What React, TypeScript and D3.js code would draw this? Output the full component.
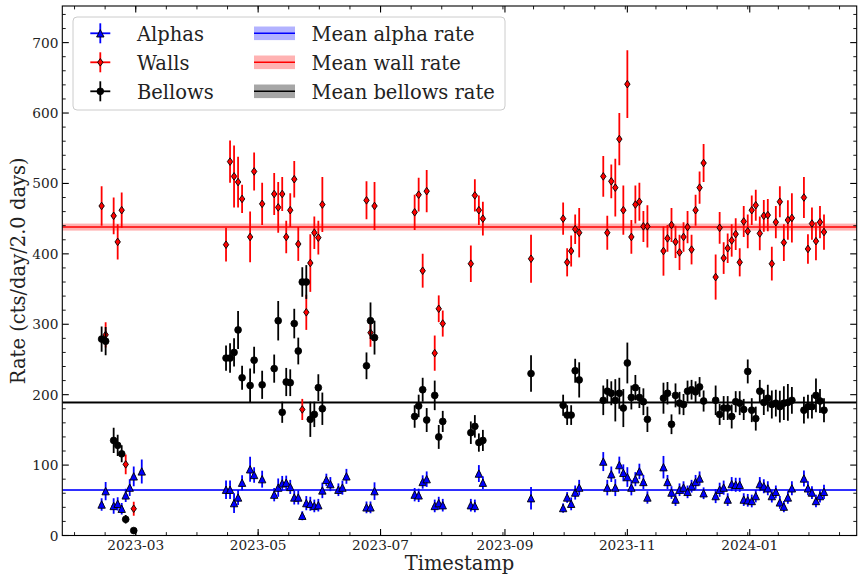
import React from 'react';
import * as d3 from 'd3';

// 2-day bin centres
const binDates = [
  '2023-02-12', '2023-02-14', '2023-02-18', '2023-02-20', '2023-02-22', '2023-02-24', '2023-02-26', '2023-02-28', '2023-03-04',
  '2023-04-15', '2023-04-17', '2023-04-19', '2023-04-21', '2023-04-23', '2023-04-27', '2023-04-29', '2023-05-03', '2023-05-09',
  '2023-05-11', '2023-05-13', '2023-05-15', '2023-05-17', '2023-05-19', '2023-05-21', '2023-05-23', '2023-05-25', '2023-05-27',
  '2023-05-29', '2023-05-31', '2023-06-02', '2023-06-04', '2023-06-06', '2023-06-10', '2023-06-12', '2023-06-14',
  '2023-06-24', '2023-06-26', '2023-06-28',
  '2023-07-18', '2023-07-20', '2023-07-22', '2023-07-24', '2023-07-28', '2023-07-30', '2023-08-01',
  '2023-08-15', '2023-08-17', '2023-08-19', '2023-08-21',
  '2023-09-14',
  '2023-09-30', '2023-10-02', '2023-10-04', '2023-10-06', '2023-10-08',
  '2023-10-20', '2023-10-22', '2023-10-24', '2023-10-26', '2023-10-28', '2023-10-30', '2023-11-01', '2023-11-03', '2023-11-05',
  '2023-11-07', '2023-11-09', '2023-11-11',
  '2023-11-19', '2023-11-21', '2023-11-23', '2023-11-25', '2023-11-27', '2023-11-29', '2023-12-01', '2023-12-03', '2023-12-05',
  '2023-12-07', '2023-12-09',
  '2023-12-15', '2023-12-17', '2023-12-19', '2023-12-21', '2023-12-23', '2023-12-25', '2023-12-27', '2023-12-29', '2023-12-31',
  '2024-01-02', '2024-01-04', '2024-01-06', '2024-01-08', '2024-01-10', '2024-01-12', '2024-01-14', '2024-01-16', '2024-01-18',
  '2024-01-20', '2024-01-22',
  '2024-01-28', '2024-01-30', '2024-02-01', '2024-02-03', '2024-02-05', '2024-02-07',
];

const alphaRate = [
  44, 63, 42, 45, 38, 57, 68, 84, 91,
  65, 65, 46, 54, 75, 94, 86, 80, 58, 68, 74, 75, 69, 54, 54, 28, 46, 45, 42, 43, 64, 79, 73, 65, 68, 84,
  40, 40, 63,
  58, 57, 76, 80, 42, 46, 43,
  43, 42, 88, 75,
  53,
  39, 54, 45, 61, 68,
  105, 68, 87, 68, 100, 89, 83, 68, 80, 91, 76, 54,
  97, 76, 61, 51, 65, 68, 62, 70, 76, 81, 60,
  56, 65, 68, 51, 73, 72, 72, 51, 50, 49, 56, 73, 70, 67, 56, 62, 47, 41, 54, 67,
  81, 67, 61, 49, 56, 62,
];
const alphaErr = [
  9, 13, 11, 9.5, 8, 9.5, 12, 14, 17,
  13, 13, 14, 10.6, 10.6, 17.7, 11, 12, 9.5, 13, 10.6, 10, 10, 10, 10, 6.4, 10, 10, 9, 9, 11, 8.8, 10, 9, 10, 10.6,
  8.3, 8.3, 12.5,
  9.5, 9.5, 9.5, 11, 9, 9, 9,
  9, 9, 12, 9,
  16,
  6.6, 7.6, 9, 10, 11,
  13.5, 11, 11, 12, 12, 12, 14, 11, 10, 11, 10, 8.8,
  16, 10, 9, 9, 9, 9, 9, 9, 10, 10, 8.3,
  10, 10, 10, 9, 10, 10, 10, 9, 9, 9, 9, 10, 10, 10, 9, 9, 9, 8, 9, 10,
  11.4, 10, 9, 9, 9, 10,
];

const wallRate = [
  468, 285, 454, 417, 462, 101, null, 38, null,
  413, 531, 510, 502, 478, 424, 517, 471, 485, 466, 485, 424, 462, 506, 414, 179, 317, 387, 430, 423, 470, null, null, null, null, null,
  476, 288, 468,
  459, 484, 376, 489, 259, 322, 301,
  386, 483, 462, 450,
  393,
  450, 388, 404, 435, 430,
  510, 430, 503, 494, 563, 462, 641, 424, 470, 474, 439, 439,
  404, 422, 441, 417, 402, 424, 438, 406, 462, 494, 529,
  367, 437, 394, 408, 419, 428, 388, 446, 432, 462, 469, 429, 454, 455, 386, 445, 474, 416, 448, 451,
  480, 407, 443, 418, 445, 431,
];
const wallErr = [
  28, 18, 26, 25, 25, 14, null, 10, null,
  24, 30, 44, 36, 20, 36, 27, 30, 30, 36, 24, 23, 24, 26, 24, 15, 25, 41, 23, 24, 39, null, null, null, null, null,
  27, 20, 34,
  25, 24, 24, 30, 25, 19, 18.5,
  26, 23, 21, 24,
  34,
  23, 20, 22, 21, 35,
  29, 24, 24, 41, 37, 35, 48, 24, 27, 27, 22, 30,
  35, 19, 24, 23, 25, 21, 23, 21, 22, 23, 27,
  32, 22.5, 22.5, 21, 23, 22.5, 20, 22, 24, 21, 22, 24, 22.5, 23, 24, 23, 22, 26, 28, 35,
  29, 21, 23, 27, 23, 25,
];

const bellowsRate = [
  279, 276, 135, 128, 116, 23, null, 7, null,
  252, 252, 260, 292, 224, 213, 249, 214, 237, 305, 175, 218, 217, 301, 262, 360, 360, 165, 172, 210, 180, null, null, null, null, null,
  241, 305, 281,
  169, 184, 207, 164, 199, 140, 162,
  146, 155, 132, 135,
  230,
  185, 171, 171, 234, 221,
  192, 205, 202, 192, 202, 181, 245, 196, 210, 196, 190, 165,
  195, 202, 158, 199, 188, 186, 205, 207, 204, 211, 191,
  192, 172, 181, 181, 169, 190, 188, 179, 233, 178, 166, 205, 189, 195, 186, 188, 183, 188, 189, 192,
  178, 183, 183, 199, 191, 178,
];
const bellowsErr = [
  18, 20, 18, 15, 12, 6, null, 4, null,
  18, 21, 20, 27, 17, 24, 19, 20, 20, 28, 15, 20, 19, 21, 19, 21, 24, 25, 18, 19, 23, null, null, null, null, null,
  19, 26, 24,
  16, 16, 17, 17, 21, 17, 15,
  16, 16, 13, 15,
  26,
  15, 14, 14, 17, 25,
  21, 17, 17, 30, 22, 27, 29, 17, 18, 15, 19, 18,
  22, 16, 14, 17, 16, 15, 15, 14, 15, 14, 15,
  21, 15, 17, 17, 17, 15, 17, 15, 17, 17, 17, 16, 18, 19, 20, 19, 22.5, 24, 26, 19,
  19, 17, 17, 24, 17, 17,
];

// mean rates and their uncertainty bands
const meanAlpha = 64.5, meanAlphaErr = 1.2;
const meanWall = 438, meanWallErr = 5;
const meanBellows = 189, meanBellowsErr = 2;

const yMajorTicks = [0, 100, 200, 300, 400, 500, 600, 700];

const FONT = 'DejaVu Serif, serif';
const DAY = 86400000;

type MarkerKind = 'tri' | 'diamond' | 'circle';

function Marker({ kind, cx, cy, fill }: { kind: MarkerKind; cx: number; cy: number; fill: string }) {
  if (kind === 'tri') {
    const s = 3.7;
    return <path d={`M${cx},${cy - s}L${cx + s},${cy + s}L${cx - s},${cy + s}Z`} fill={fill} stroke="#000" strokeWidth={0.9} />;
  }
  if (kind === 'diamond') {
    const h = 3.8, w = 2.7;
    return <path d={`M${cx},${cy - h}L${cx + w},${cy}L${cx},${cy + h}L${cx - w},${cy}Z`} fill={fill} stroke="#000" strokeWidth={0.9} />;
  }
  return <circle cx={cx} cy={cy} r={3.4} fill={fill} stroke="#000" strokeWidth={0.8} />;
}

export default function App() {
  const W = 858, H = 578;
  const left = 62.3, right = 856.7, top = 6, bottom = 535.5;

  const x = d3.scaleUtc()
    .domain([new Date(Date.UTC(2023, 0, 23, 9, 36)), new Date(Date.UTC(2024, 1, 23, 7, 12))])
    .range([left, right]);
  const y = d3.scaleLinear().domain([0, 752]).range([bottom, top]);

  const parse = d3.utcParse('%Y-%m-%d');
  const dates = binDates.map((s) => parse(s) as Date);

  const majorX = x.ticks(d3.utcMonth.every(2) as d3.CountableTimeInterval);
  const fmt = d3.utcFormat('%Y-%m');
  // minor ticks: a quarter of the first major interval, repeated across the axis
  const step = (majorX[1].getTime() - majorX[0].getTime()) / 4;
  const [d0, d1] = x.domain().map((d) => d.getTime());
  const minorX: number[] = [];
  for (let t = majorX[0].getTime(); t >= d0; t -= step) minorX.push(t);
  for (let t = majorX[0].getTime() + step; t <= d1; t += step) minorX.push(t);
  const minorY = d3.range(0, 752, 20).filter((v) => v % 100 !== 0);

  const series = [
    { name: 'Alphas', vals: alphaRate, errs: alphaErr, color: '#0000ff', face: '#0000ff', kind: 'tri' as MarkerKind },
    { name: 'Walls', vals: wallRate, errs: wallErr, color: '#ff0000', face: '#ff0000', kind: 'diamond' as MarkerKind },
    { name: 'Bellows', vals: bellowsRate, errs: bellowsErr, color: '#000000', face: '#000000', kind: 'circle' as MarkerKind },
  ];
  const means = [
    { name: 'Mean alpha rate', v: meanAlpha, e: meanAlphaErr, color: '#0000ff', band: 'rgba(0,0,255,0.3)' },
    { name: 'Mean wall rate', v: meanWall, e: meanWallErr, color: '#ff0000', band: 'rgba(255,0,0,0.3)' },
    { name: 'Mean bellows rate', v: meanBellows, e: meanBellowsErr, color: '#000000', band: 'rgba(0,0,0,0.35)' },
  ];

  const tickColor = '#222';

  return (
    <svg width={W} height={H} style={{ position: 'absolute', left: 0, top: 0, background: '#fff' }} fontFamily={FONT}>
      <defs>
        <clipPath id="plot-area">
          <rect x={left} y={top} width={right - left} height={bottom - top} />
        </clipPath>
      </defs>

      <g clipPath="url(#plot-area)">
        {means.map((m) => (
          <g key={m.name}>
            <rect x={left} width={right - left} y={y(m.v + m.e)} height={y(m.v - m.e) - y(m.v + m.e)} fill={m.band} />
            <line x1={left} x2={right} y1={y(m.v)} y2={y(m.v)} stroke={m.color} strokeWidth={1.5} />
          </g>
        ))}

        {series.map((s) => (
          <g key={s.name}>
            {dates.map((d, i) => {
              const v = s.vals[i];
              const e = s.errs[i];
              if (v == null || e == null) return null;
              const cx = x(d);
              const cy = y(v);
              return (
                <g key={i}>
                  <line x1={cx} x2={cx} y1={y(v - e)} y2={y(v + e)} stroke={s.color} strokeWidth={1.8} />
                  <line x1={x(new Date(d.getTime() - DAY))} x2={x(new Date(d.getTime() + DAY))} y1={cy} y2={cy} stroke={s.color} strokeWidth={1.8} />
                  <Marker kind={s.kind} cx={cx} cy={cy} fill={s.face} />
                </g>
              );
            })}
          </g>
        ))}
      </g>

      {/* frame */}
      <rect x={left} y={top} width={right - left} height={bottom - top} fill="none" stroke="#000" strokeWidth={1.1} />

      {/* x ticks, bottom and top */}
      {minorX.map((t, i) => {
        const px = x(new Date(t));
        return (
          <g key={'mx' + i} stroke="#000" strokeWidth={0.9}>
            <line x1={px} x2={px} y1={bottom} y2={bottom - 3.4} />
            <line x1={px} x2={px} y1={top} y2={top + 3.4} />
          </g>
        );
      })}
      {majorX.map((t, i) => {
        const px = x(t);
        return (
          <g key={'Mx' + i}>
            <line x1={px} x2={px} y1={bottom} y2={bottom - 6.5} stroke="#000" strokeWidth={1.1} />
            <line x1={px} x2={px} y1={top} y2={top + 6.5} stroke="#000" strokeWidth={1.1} />
            <text x={px} y={549.5} textAnchor="middle" fontSize={13.7} fill={tickColor}>{fmt(t)}</text>
          </g>
        );
      })}

      {/* y ticks, left and right */}
      {minorY.map((v) => (
        <g key={'my' + v} stroke="#000" strokeWidth={0.9}>
          <line x1={left} x2={left + 3.4} y1={y(v)} y2={y(v)} />
          <line x1={right} x2={right - 3.4} y1={y(v)} y2={y(v)} />
        </g>
      ))}
      {yMajorTicks.map((v) => (
        <g key={'My' + v}>
          <line x1={left} x2={left + 6.5} y1={y(v)} y2={y(v)} stroke="#000" strokeWidth={1.1} />
          <line x1={right} x2={right - 6.5} y1={y(v)} y2={y(v)} stroke="#000" strokeWidth={1.1} />
          <text x={58.5} y={y(v) + 5} textAnchor="end" fontSize={13.7} fill={tickColor}>{v}</text>
        </g>
      ))}

      {/* axis labels */}
      <text x={(left + right) / 2} y={570} textAnchor="middle" fontSize={19.5} fill={tickColor}>Timestamp</text>
      <text transform={`translate(24.5, ${(top + bottom) / 2}) rotate(-90)`} textAnchor="middle" fontSize={19.5} fill={tickColor}>
        Rate (cts/day/2.0 days)
      </text>

      {/* legend */}
      <g>
        <rect x={73} y={17} width={432} height={93} rx={4} fill="rgba(255,255,255,0.8)" stroke="#cccccc" strokeWidth={1} />
        {series.map((s, i) => {
          const cy = 33.3 + i * 29;
          const cx = 100.3;
          return (
            <g key={'lg' + s.name}>
              <line x1={cx} x2={cx} y1={cy - 10} y2={cy + 10} stroke={s.color} strokeWidth={1.8} />
              <line x1={cx - 10} x2={cx + 10} y1={cy} y2={cy} stroke={s.color} strokeWidth={1.8} />
              <Marker kind={s.kind} cx={cx} cy={cy} fill={s.face} />
              <text x={137} y={cy + 7.2} fontSize={19.5} fill={tickColor}>{s.name}</text>
            </g>
          );
        })}
        {means.map((m, i) => {
          const cy = 33.3 + i * 29;
          return (
            <g key={'lm' + m.name}>
              <rect x={254} width={41} y={cy - 6.8} height={13.6} fill={m.band} />
              <line x1={254} x2={295} y1={cy} y2={cy} stroke={m.color} strokeWidth={1.5} />
              <text x={311.5} y={cy + 7.2} fontSize={19.5} fill={tickColor}>{m.name}</text>
            </g>
          );
        })}
      </g>
    </svg>
  );
}
